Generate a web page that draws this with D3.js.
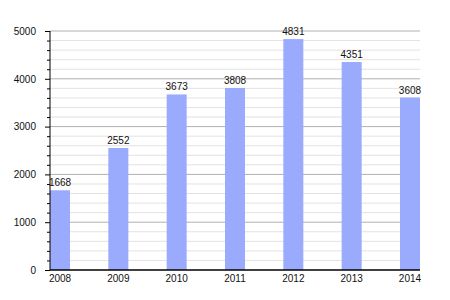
<!DOCTYPE html>
<html>
<head>
<meta charset="utf-8">
<script src="https://cdn.jsdelivr.net/npm/d3@7"></script>
<style>
  body { margin: 0; background: #fff; }
  svg text { font-family: "Liberation Sans", Arial, sans-serif; }
</style>
</head>
<body>
<div id="chart"></div>
<script>
// data
const years = ["2008", "2009", "2010", "2011", "2012", "2013", "2014"];
const values = [1668, 2552, 3673, 3808, 4831, 4351, 3608];
const yTicks = [0, 1000, 2000, 3000, 4000, 5000];

const margin = {top: 31, right: 30, bottom: 30, left: 50},
  width = 450 - margin.left - margin.right,
  height = 300 - margin.top - margin.bottom;

const svg = d3.select("#chart")
  .append("svg")
  .attr("width", 450)
  .attr("height", 300)
  .append("g")
  .attr("transform", `translate(${margin.left},${margin.top})`);

const x = d3.scaleBand()
  .domain(years)
  .range([0, width])
  .paddingInner(0.657)
  .paddingOuter(0);

const y = d3.scaleLinear()
  .domain([0, 5000])
  .range([height, 0]);

// minor grid every 200
const minor = d3.range(200, 5001, 200).filter(v => v % 1000 !== 0);
svg.selectAll(".minor")
  .data(minor)
  .join("line")
  .attr("x1", 0).attr("x2", width)
  .attr("y1", d => y(d)).attr("y2", d => y(d))
  .attr("stroke", "#e2e2e2");

svg.selectAll(".major")
  .data(yTicks.slice(1))
  .join("line")
  .attr("x1", 0).attr("x2", width)
  .attr("y1", d => y(d)).attr("y2", d => y(d))
  .attr("stroke", "#b0b0b0");

// bars
svg.selectAll("rect")
  .data(values)
  .join("rect")
  .attr("x", (d, i) => x(years[i]))
  .attr("y", d => y(d))
  .attr("width", x.bandwidth())
  .attr("height", d => height - y(d))
  .attr("fill", "#9aabfd");

// value labels
svg.selectAll(".val")
  .data(values)
  .join("text")
  .attr("x", (d, i) => x(years[i]) + x.bandwidth() / 2)
  .attr("y", d => y(d) - 4)
  .attr("text-anchor", "middle")
  .attr("font-size", 10)
  .attr("fill", "#111")
  .text(d => d);

// y axis
const yAxis = svg.append("g")
  .call(d3.axisLeft(y).tickValues(yTicks).tickSize(5).tickPadding(9).tickFormat(d3.format("d")));
yAxis.select(".domain").attr("stroke", "#000").attr("d", `M0,${height}V0`);
yAxis.selectAll("text").attr("font-size", 10).attr("fill", "#111");

svg.append("g")
  .call(d3.axisLeft(y).tickValues(minor).tickSize(3).tickFormat(""))
  .select(".domain").remove();

// x axis
const xAxis = svg.append("g")
  .attr("transform", `translate(0,${height})`)
  .call(d3.axisBottom(x).tickSize(0).tickPadding(5));
xAxis.select(".domain").attr("stroke", "#000").attr("stroke-width", 1.5).attr("d", `M0,0H${width}`);
xAxis.selectAll("text").attr("font-size", 10).attr("fill", "#111");
</script>
</body>
</html>
